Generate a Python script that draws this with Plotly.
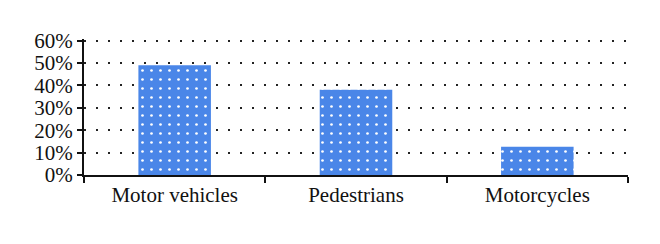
import plotly.graph_objects as go

categories = ["Motor vehicles", "Pedestrians", "Motorcycles"]
values = [0.49, 0.38, 0.126]
tick_vals = [0, 0.1, 0.2, 0.3, 0.4, 0.5, 0.6]
tick_text = ["0%", "10%", "20%", "30%", "40%", "50%", "60%"]

fig = go.Figure(go.Bar(
    x=categories, y=values,
    marker=dict(color="#4a86e8", line=dict(width=0),
                pattern=dict(shape=".", fgcolor="white", bgcolor="#4a86e8",
                             size=9, solidity=0.07, fillmode="replace")),
))

font = dict(family="Liberation Serif, DejaVu Serif, serif", size=21, color="#111111")
fig.update_layout(
    width=660, height=244,
    margin=dict(l=76, r=40, t=31, b=77),
    paper_bgcolor="white", plot_bgcolor="white",
    bargap=0.6, showlegend=False, font=font,
    xaxis=dict(showline=True, linecolor="#111111", linewidth=2,
               ticks="outside", tickson="boundaries", ticklen=6, tickwidth=1.5,
               tickcolor="#111111", showgrid=False, tickfont=font),
    yaxis=dict(range=[0, 0.607], tickvals=tick_vals, ticktext=tick_text,
               showline=True, linecolor="#111111", linewidth=2,
               ticks="outside", ticklen=5, tickwidth=1.5, tickcolor="#111111",
               showgrid=True, gridcolor="#222222", gridwidth=1.5,
               griddash="1.5px,10.5px", zeroline=False, tickfont=font),
)

fig.write_html("out.html")
